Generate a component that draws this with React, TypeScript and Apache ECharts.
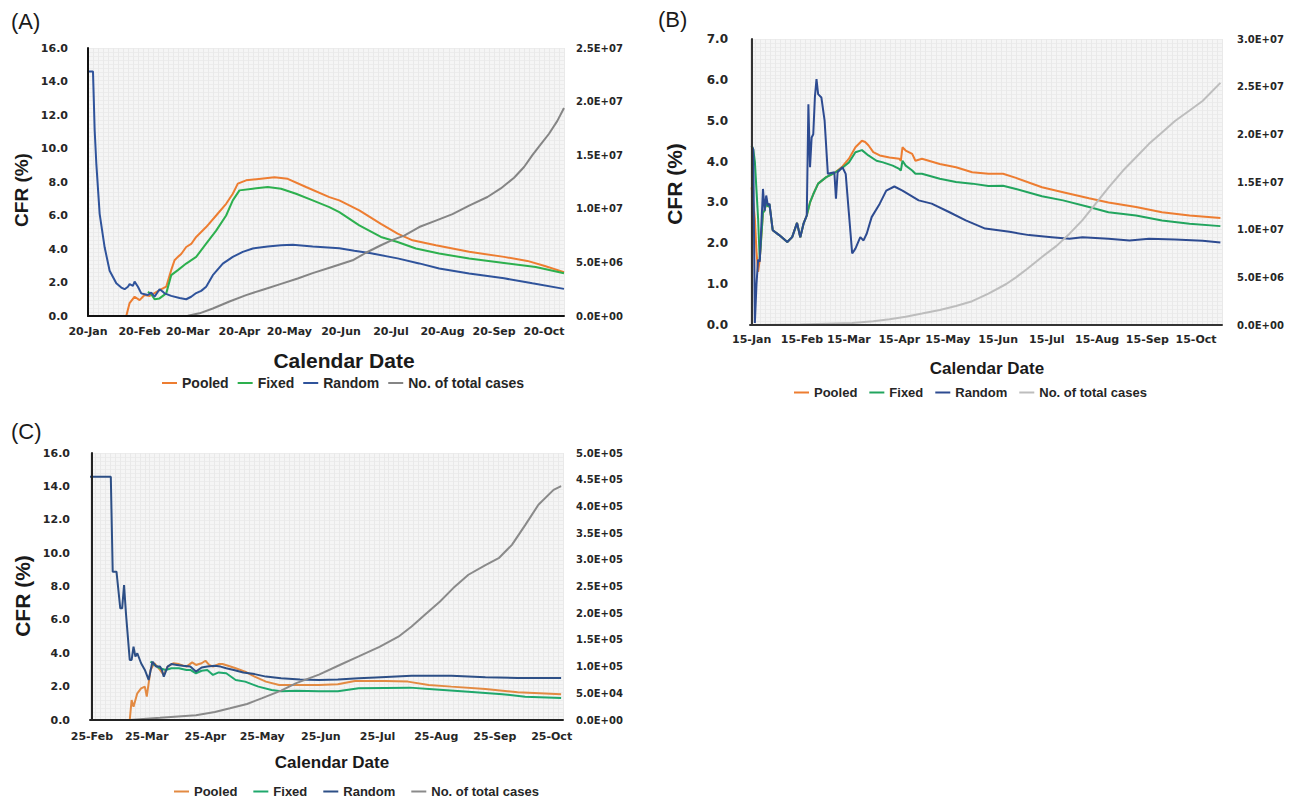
import React, { useEffect, useRef } from 'react';
import * as echarts from 'echarts';

const MONTHS = ['Jan', 'Feb', 'Mar', 'Apr', 'May', 'Jun', 'Jul', 'Aug', 'Sep', 'Oct', 'Nov', 'Dec'];
const DAY_MS = 86400000;
const SERIES_NAMES = ['Pooled', 'Fixed', 'Random', 'No. of total cases'];

// ---------- Panel A (days counted from 20-Jan-2020) ----------
const A_START = '2020-01-20';
const A_TICKS = ['20-Jan', '20-Feb', '20-Mar', '20-Apr', '20-May', '20-Jun', '20-Jul', '20-Aug', '20-Sep', '20-Oct'];
const A_CFR_TICKS = { max: 16, interval: 2 };
const A_CASE_TICKS = { max: 25000000, interval: 5000000 };
const A_POOLED_DAYS = [23, 25, 28, 31, 34, 37, 40, 43, 47, 50, 52, 54, 56, 59, 62, 65, 71, 77, 83, 87, 90, 95, 104, 112, 120, 131, 145, 151, 163, 176, 186, 195, 209, 229, 250, 264, 274, 286];
const A_POOLED = [0, 0.77, 1.15, 0.95, 1.25, 1.2, 1.37, 1.55, 1.75, 2.74, 3.33, 3.53, 3.7, 4.12, 4.3, 4.72, 5.31, 6.0, 6.7, 7.3, 7.9, 8.1, 8.2, 8.29, 8.19, 7.7, 7.1, 6.9, 6.3, 5.5, 4.92, 4.52, 4.22, 3.83, 3.53, 3.29, 3.0, 2.62];
const A_FIXED_DAYS = [36, 38, 40, 43, 47, 50, 54, 59, 65, 71, 77, 83, 87, 91, 99, 108, 116, 125, 135, 145, 151, 163, 176, 186, 197, 211, 229, 250, 269, 286];
const A_FIXED = [1.45, 1.3, 1.0, 1.05, 1.35, 2.44, 2.74, 3.13, 3.53, 4.32, 5.1, 6.0, 6.9, 7.5, 7.6, 7.7, 7.6, 7.3, 6.9, 6.5, 6.2, 5.41, 4.72, 4.42, 4.03, 3.73, 3.43, 3.17, 2.93, 2.55];
const A_RANDOM_DAYS = [0, 3, 4, 5, 7, 10, 13, 17, 20, 22, 24, 25, 27, 28, 30, 32, 34, 36, 38, 40, 42, 43, 45, 46, 50, 55, 59, 62, 65, 68, 71, 75, 81, 87, 93, 99, 108, 116, 123, 135, 151, 160, 170, 186, 199, 211, 229, 250, 267, 286];
const A_RANDOM = [14.6, 14.6, 11.1, 9.1, 6.1, 4.1, 2.7, 1.95, 1.7, 1.6, 1.75, 1.9, 1.8, 2.05, 1.75, 1.35, 1.3, 1.25, 1.4, 1.15, 1.45, 1.6, 1.45, 1.35, 1.2, 1.07, 1.0, 1.15, 1.37, 1.5, 1.75, 2.44, 3.13, 3.53, 3.83, 4.03, 4.15, 4.22, 4.25, 4.15, 4.05, 3.9, 3.74, 3.44, 3.14, 2.84, 2.54, 2.25, 1.95, 1.62];
const A_CASES_DAYS = [52, 60, 67, 75, 85, 95, 106, 116, 126, 135, 147, 159, 167, 176, 183, 190, 199, 209, 219, 229, 240, 248, 256, 262, 267, 272, 277, 282, 286];
const A_CASES = [0, 20000, 250000, 700000, 1350000, 1950000, 2500000, 3000000, 3500000, 4000000, 4600000, 5200000, 5900000, 6600000, 7100000, 7500000, 8300000, 8900000, 9500000, 10300000, 11100000, 11900000, 12900000, 13900000, 15000000, 16000000, 17000000, 18200000, 19400000];

// ---------- Panel B (days counted from 15-Jan-2020) ----------
const B_START = '2020-01-15';
const B_TICKS = ['15-Jan', '15-Feb', '15-Mar', '15-Apr', '15-May', '15-Jun', '15-Jul', '15-Aug', '15-Sep', '15-Oct'];
const B_CFR_TICKS = { max: 7, interval: 1 };
const B_CASE_TICKS = { max: 30000000, interval: 5000000 };
const B_POOLED_DAYS = [0, 2, 3, 4, 5, 7, 8, 9, 10, 11, 13, 17, 22, 25, 28, 30, 32, 34, 36, 38, 41, 46, 51, 56, 60, 64, 68, 70, 72, 75, 79, 85, 91, 92, 93, 95, 99, 101, 105, 116, 126, 136, 146, 155, 163, 179, 192, 208, 220, 237, 253, 270, 289];
const B_POOLED = [3.37, 2.6, 1.8, 1.3, 1.6, 2.75, 2.8, 3.0, 2.9, 2.95, 2.32, 2.2, 2.03, 2.15, 2.5, 2.15, 2.48, 2.68, 3.0, 3.2, 3.46, 3.62, 3.72, 3.88, 4.07, 4.35, 4.51, 4.48, 4.4, 4.23, 4.15, 4.1, 4.07, 4.02, 4.35, 4.27, 4.19, 4.02, 4.07, 3.94, 3.86, 3.74, 3.7, 3.7, 3.6, 3.37, 3.25, 3.1, 3.0, 2.89, 2.76, 2.68, 2.62];
const B_FIXED_DAYS = [0, 1, 2, 3, 4, 5, 7, 8, 9, 10, 11, 13, 17, 22, 25, 28, 30, 32, 34, 36, 38, 41, 46, 51, 56, 60, 64, 68, 72, 77, 81, 87, 91, 92, 93, 95, 99, 101, 105, 116, 126, 136, 146, 155, 163, 179, 192, 208, 220, 237, 253, 270, 289];
const B_FIXED = [4.39, 4.3, 4.0, 3.3, 2.6, 1.6, 2.75, 2.8, 3.0, 2.9, 2.95, 2.32, 2.2, 2.03, 2.15, 2.5, 2.15, 2.48, 2.68, 3.0, 3.2, 3.46, 3.62, 3.72, 3.85, 3.98, 4.23, 4.28, 4.15, 4.02, 3.98, 3.9, 3.82, 3.78, 4.02, 3.9, 3.78, 3.7, 3.7, 3.58, 3.5, 3.46, 3.4, 3.41, 3.33, 3.15, 3.05, 2.89, 2.76, 2.68, 2.56, 2.48, 2.42];
const B_RANDOM_DAYS = [0, 1, 2, 3, 4, 5, 7, 8, 9, 10, 11, 13, 17, 22, 25, 28, 30, 32, 34, 35, 36, 37, 38, 39, 40, 41, 43, 45, 47, 51, 52, 53, 56, 58, 60, 62, 64, 67, 69, 71, 74, 79, 83, 88, 93, 103, 111, 122, 132, 144, 159, 171, 185, 196, 204, 220, 233, 245, 261, 278, 289];
const B_RANDOM = [4.39, 4.3, 0.05, 1.0, 1.6, 1.55, 3.33, 2.8, 3.17, 2.93, 2.97, 2.32, 2.2, 2.03, 2.15, 2.5, 2.15, 2.48, 2.68, 5.4, 3.86, 4.59, 4.67, 5.57, 6.02, 5.65, 5.57, 5.0, 3.7, 3.74, 3.09, 3.74, 3.86, 3.7, 2.72, 1.75, 1.87, 2.15, 2.07, 2.24, 2.64, 2.97, 3.29, 3.39, 3.29, 3.05, 2.97, 2.76, 2.56, 2.36, 2.28, 2.2, 2.15, 2.11, 2.15, 2.11, 2.07, 2.11, 2.09, 2.06, 2.02];
const B_CASES_DAYS = [0, 30, 62, 75, 85, 95, 105, 116, 126, 136, 146, 157, 163, 170, 179, 188, 196, 204, 212, 220, 229, 237, 245, 253, 261, 270, 278, 289];
const B_CASES = [0, 50000, 200000, 400000, 600000, 870000, 1200000, 1570000, 2000000, 2500000, 3300000, 4300000, 5000000, 5900000, 7140000, 8300000, 9580000, 11000000, 12700000, 14400000, 16200000, 17600000, 19000000, 20200000, 21400000, 22500000, 23500000, 25400000];

// ---------- Panel C (days counted from 25-Feb-2020) ----------
const C_START = '2020-02-25';
const C_TICKS = ['25-Feb', '25-Mar', '25-Apr', '25-May', '25-Jun', '25-Jul', '25-Aug', '25-Sep', '25-Oct'];
const C_CFR_TICKS = { max: 16, interval: 2 };
const C_CASE_TICKS = { max: 500000, interval: 50000 };
const C_POOLED_DAYS = [20, 21, 22, 24, 26, 28, 29, 31, 33, 36, 38, 40, 43, 46, 50, 53, 55, 58, 60, 62, 64, 67, 69, 72, 76, 81, 86, 92, 99, 110, 120, 130, 139, 155, 167, 178, 190, 208, 225, 248];
const C_POOLED = [0, 1.2, 0.8, 1.6, 1.9, 2.0, 1.4, 3.0, 3.4, 3.0, 2.7, 3.2, 3.4, 3.35, 3.2, 3.45, 3.3, 3.4, 3.55, 3.3, 3.2, 3.35, 3.36, 3.25, 3.1, 2.9, 2.6, 2.3, 2.1, 2.1, 2.1, 2.14, 2.34, 2.34, 2.3, 2.1, 2.0, 1.86, 1.66, 1.54];
const C_FIXED_DAYS = [31, 33, 36, 39, 42, 46, 50, 52, 55, 58, 61, 64, 67, 71, 76, 81, 88, 95, 100, 108, 120, 130, 141, 155, 168, 180, 199, 217, 229, 248];
const C_FIXED = [3.5, 3.3, 3.1, 3.0, 3.1, 3.1, 3.0, 3.0, 2.8, 2.95, 3.0, 2.7, 2.85, 2.8, 2.4, 2.3, 2.0, 1.8, 1.72, 1.75, 1.72, 1.72, 1.9, 1.92, 1.94, 1.85, 1.7, 1.55, 1.4, 1.32];
const C_RANDOM_DAYS = [-1, 10, 11, 13, 15, 16, 17, 18, 20, 21, 22, 23, 24, 26, 28, 30, 32, 34, 36, 37, 38, 40, 42, 45, 48, 52, 55, 58, 61, 65, 68, 71, 75, 80, 86, 92, 100, 110, 120, 130, 141, 150, 169, 180, 190, 208, 225, 248];
const C_RANDOM = [14.58, 14.58, 8.89, 8.89, 6.69, 6.69, 8.09, 6.39, 3.6, 3.6, 4.39, 3.8, 4.0, 3.4, 3.0, 2.4, 3.5, 3.2, 3.2, 3.0, 2.6, 3.2, 3.35, 3.3, 3.25, 3.2, 2.9, 3.15, 3.2, 3.25, 3.2, 3.1, 3.0, 2.85, 2.75, 2.6, 2.5, 2.42, 2.4, 2.42, 2.5, 2.55, 2.65, 2.65, 2.65, 2.56, 2.52, 2.52];
const C_CASES_DAYS = [20, 36, 55, 65, 73, 82, 90, 100, 108, 114, 120, 131, 141, 152, 162, 169, 176, 184, 191, 199, 208, 215, 222, 229, 236, 244, 248];
const C_CASES = [0, 4000, 9000, 15000, 22000, 30000, 41000, 55000, 69000, 77000, 85000, 103000, 119000, 137000, 156000, 175000, 197000, 222000, 247000, 272000, 290000, 303000, 328000, 365000, 403000, 431000, 438000];

function parseStart(s: string): Date {
  const [y, m, d] = s.split('-').map(Number);
  return new Date(y, m - 1, d);
}
// day offset (from the panel start) of a "dd-Mon" tick label
function tickDay(label: string, start: Date): number {
  const [d, mon] = label.split('-');
  const dt = new Date(start.getFullYear(), MONTHS.indexOf(mon), Number(d));
  return Math.round((dt.getTime() - start.getTime()) / DAY_MS);
}
function dayLabel(day: number, start: Date): string {
  const dt = new Date(start.getFullYear(), start.getMonth(), start.getDate() + Math.round(day));
  return dt.getDate() + '-' + MONTHS[dt.getMonth()];
}
function sci(v: number): string {
  if (v === 0) return '0.0E+00';
  const e = Math.floor(Math.log10(v) + 1e-9);
  const m = v / Math.pow(10, e);
  return m.toFixed(1) + 'E+' + String(e).padStart(2, '0');
}

type SeriesDef = { days: number[]; values: number[]; color: string; right?: boolean };
type Panel = {
  origin: { x: number; y: number };
  start: string;
  minDay: number;
  maxDay: number;
  ticks: string[];
  cfr: { max: number; interval: number };
  cases: { max: number; interval: number };
  grid: { left: number; top: number; width: number; height: number };
  series: SeriesDef[];
  lineWidth: number;
  axisColor: string;
  leftSize: number;
  leftMargin: number;
  rightSize: number;
  rightMargin: number;
  xMargin: number;
  legend: { left: number; top: number; gap: number; size: number };
  letter: { text: string; x: number; y: number; size: number };
  cfrLabel: { x: number; y: number; size: number };
  dateLabel: { x: number; y: number; size: number };
};

const TICK_FONT = '"DejaVu Sans", Verdana, sans-serif';
const TITLE_FONT = '"Liberation Sans", Arial, sans-serif';

function buildOption(p: Panel) {
  const ox = p.origin.x;
  const oy = p.origin.y;
  const start = parseStart(p.start);
  const tickValues = p.ticks.map((l) => tickDay(l, start));
  const texX = Math.round(p.grid.width / 5);
  const texY = Math.round(p.grid.height / 4);
  const hidden = { axisLine: { show: false }, axisTick: { show: false }, axisLabel: { show: false } };
  return {
    animation: false,
    backgroundColor: 'transparent',
    grid: {
      left: p.grid.left + ox, top: p.grid.top + oy, width: p.grid.width, height: p.grid.height,
      show: true, backgroundColor: '#f5f5f5', borderWidth: 0,
    },
    xAxis: [
      {
        type: 'value',
        min: p.minDay,
        max: p.maxDay,
        z: 5,
        axisLine: { show: true, onZero: false, lineStyle: { color: p.axisColor, width: 2 } },
        axisTick: { show: false },
        splitLine: { show: false },
        axisLabel: {
          customValues: tickValues,
          formatter: (v: number) => dayLabel(v, start),
          fontFamily: TICK_FONT,
          fontWeight: 'bold',
          fontSize: 11,
          color: '#262626',
          margin: p.xMargin,
        },
      },
      {
        type: 'value', min: 0, max: texX, interval: 1, ...hidden,
        splitLine: { show: true, lineStyle: { color: '#e9e9e9', width: 1 } },
      },
    ],
    yAxis: [
      {
        type: 'value', min: 0, max: p.cfr.max, interval: p.cfr.interval, z: 5,
        axisLine: { show: true, lineStyle: { color: p.axisColor, width: 2 } },
        axisTick: { show: false },
        splitLine: { show: false },
        axisLabel: {
          formatter: (v: number) => v.toFixed(1),
          fontFamily: TICK_FONT, fontWeight: 'bold', fontSize: p.leftSize, color: '#262626', margin: p.leftMargin,
        },
      },
      {
        type: 'value', position: 'right', min: 0, max: p.cases.max, interval: p.cases.interval,
        axisLine: { show: false }, axisTick: { show: false }, splitLine: { show: false },
        axisLabel: {
          formatter: (v: number) => sci(v),
          fontFamily: TICK_FONT, fontWeight: 'bold', fontSize: p.rightSize, color: '#262626', margin: p.rightMargin,
        },
      },
      {
        type: 'value', min: 0, max: texY, interval: 1, ...hidden,
        splitLine: { show: true, lineStyle: { color: '#ececec', width: 1 } },
      },
    ],
    legend: {
      left: p.legend.left + ox,
      top: p.legend.top + oy,
      icon: 'rect',
      itemWidth: 15,
      itemHeight: 2,
      itemGap: p.legend.gap,
      selectedMode: false,
      data: SERIES_NAMES,
      textStyle: { fontFamily: TITLE_FONT, fontWeight: 'bold', fontSize: p.legend.size, color: '#262626' },
    },
    graphic: [
      {
        type: 'text', left: p.letter.x + ox, top: p.letter.y + oy,
        style: { text: p.letter.text, font: `${p.letter.size}px ${TITLE_FONT}`, fill: '#1a1a1a' },
      },
      {
        type: 'text', x: p.cfrLabel.x + ox, y: p.cfrLabel.y + oy, rotation: Math.PI / 2,
        style: {
          text: 'CFR (%)', font: `bold ${p.cfrLabel.size}px ${TITLE_FONT}`, fill: '#1a1a1a',
          textAlign: 'center', textVerticalAlign: 'middle',
        },
      },
      {
        type: 'text', x: p.dateLabel.x + ox, y: p.dateLabel.y + oy,
        style: {
          text: 'Calendar Date', font: `bold ${p.dateLabel.size}px ${TITLE_FONT}`, fill: '#1a1a1a',
          textAlign: 'center', textVerticalAlign: 'middle',
        },
      },
    ],
    series: p.series.map((s, i) => ({
      name: SERIES_NAMES[i],
      type: 'line',
      xAxisIndex: 0,
      yAxisIndex: s.right ? 1 : 0,
      showSymbol: false,
      symbol: 'none',
      color: s.color,
      itemStyle: { color: s.color },
      lineStyle: { color: s.color, width: p.lineWidth },
      data: s.days.map((d, k) => [d, s.values[k]]),
      z: 3,
    })),
  };
}

const PANEL_A: Panel = {
  origin: { x: 0, y: 0 },
  start: A_START, minDay: 0, maxDay: 286, ticks: A_TICKS, cfr: A_CFR_TICKS, cases: A_CASE_TICKS,
  grid: { left: 88, top: 48, width: 476, height: 268 },
  series: [
    { days: A_POOLED_DAYS, values: A_POOLED, color: '#ED7D31' },
    { days: A_FIXED_DAYS, values: A_FIXED, color: '#2DB04E' },
    { days: A_RANDOM_DAYS, values: A_RANDOM, color: '#2F539B' },
    { days: A_CASES_DAYS, values: A_CASES, color: '#858585', right: true },
  ],
  lineWidth: 2, axisColor: '#111111',
  leftSize: 11, leftMargin: 20, rightSize: 10, rightMargin: 12, xMargin: 10,
  legend: { left: 157, top: 371, gap: 9, size: 14 },
  letter: { text: '(A)', x: 11, y: 10, size: 22 },
  cfrLabel: { x: 21, y: 190, size: 19 },
  dateLabel: { x: 344, y: 360, size: 21 },
};

const PANEL_B: Panel = {
  origin: { x: 650, y: 0 },
  start: B_START, minDay: -1, maxDay: 290, ticks: B_TICKS, cfr: B_CFR_TICKS, cases: B_CASE_TICKS,
  grid: { left: 100, top: 39, width: 472, height: 286 },
  series: [
    { days: B_POOLED_DAYS, values: B_POOLED, color: '#ED7D31' },
    { days: B_FIXED_DAYS, values: B_FIXED, color: '#22A55E' },
    { days: B_RANDOM_DAYS, values: B_RANDOM, color: '#2D4B91' },
    { days: B_CASES_DAYS, values: B_CASES, color: '#BDBDBD', right: true },
  ],
  lineWidth: 2, axisColor: '#333333',
  leftSize: 12, leftMargin: 22, rightSize: 10, rightMargin: 15, xMargin: 9,
  legend: { left: 139, top: 381, gap: 12, size: 13 },
  letter: { text: '(B)', x: 8, y: 8, size: 22 },
  cfrLabel: { x: 24, y: 184, size: 21 },
  dateLabel: { x: 337, y: 368, size: 17 },
};

const PANEL_C: Panel = {
  origin: { x: 0, y: 400 },
  start: C_START, minDay: -1, maxDay: 249, ticks: C_TICKS, cfr: C_CFR_TICKS, cases: C_CASE_TICKS,
  grid: { left: 90, top: 53, width: 473, height: 267 },
  series: [
    { days: C_POOLED_DAYS, values: C_POOLED, color: '#E38A42' },
    { days: C_FIXED_DAYS, values: C_FIXED, color: '#1FA86C' },
    { days: C_RANDOM_DAYS, values: C_RANDOM, color: '#2D4F86' },
    { days: C_CASES_DAYS, values: C_CASES, color: '#8A8A8A', right: true },
  ],
  lineWidth: 2, axisColor: '#222222',
  leftSize: 11, leftMargin: 20, rightSize: 10, rightMargin: 13, xMargin: 11,
  legend: { left: 169, top: 380, gap: 16, size: 13 },
  letter: { text: '(C)', x: 11, y: 20, size: 22 },
  cfrLabel: { x: 22, y: 196, size: 21 },
  dateLabel: { x: 332, y: 362, size: 17 },
};

const PANELS = [PANEL_A, PANEL_B, PANEL_C];

function ChartPanel({ panel }: { panel: Panel }) {
  const ref = useRef<HTMLDivElement>(null);
  useEffect(() => {
    if (!ref.current) return;
    const chart = echarts.init(ref.current, undefined, { renderer: 'svg' });
    chart.setOption(buildOption(panel) as any);
    return () => chart.dispose();
  }, [panel]);
  return <div ref={ref} style={{ position: 'absolute', left: 0, top: 0, width: 1300, height: 798 }} />;
}

export default function App() {
  return (
    <div style={{ position: 'fixed', left: 0, top: 0, width: 1300, height: 798, background: '#ffffff' }}>
      {PANELS.map((p, i) => (
        <ChartPanel key={i} panel={p} />
      ))}
    </div>
  );
}
